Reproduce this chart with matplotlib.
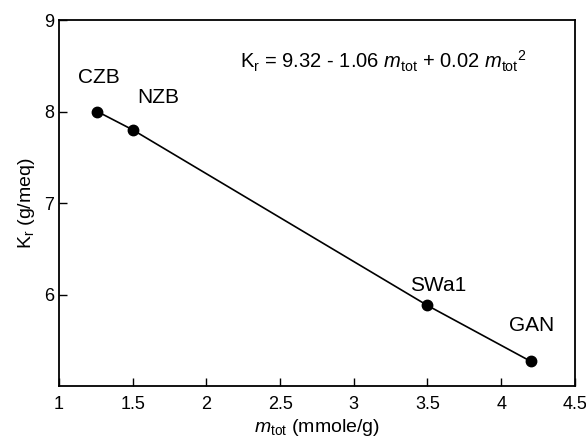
import matplotlib
matplotlib.use('Agg')
import matplotlib.pyplot as plt

plt.rcParams['font.family'] = ['Liberation Sans', 'DejaVu Sans']
plt.rcParams['mathtext.fontset'] = 'custom'
plt.rcParams['mathtext.rm'] = 'Liberation Sans'
plt.rcParams['mathtext.it'] = 'Liberation Sans:italic'

# clay samples: total charge vs K_r
samples = ['CZB', 'NZB', 'SWa1', 'GAN']
m_tot = [1.26, 1.5, 3.5, 4.2]
k_r = [8.0, 7.8, 5.88, 5.27]

# label positions (data coords, left/center anchor)
label_x = [1.13, 1.53, 3.38, 4.05]
label_y = [8.37, 8.15, 6.1, 5.66]

x_ticks = [1, 1.5, 2, 2.5, 3, 3.5, 4, 4.5]
x_tick_labels = ['1', '1.5', '2', '2.5', '3', '3.5', '4', '4.5']
y_ticks = [6, 7, 8, 9]

fig = plt.figure(figsize=(5.86, 4.41), dpi=100)
ax = fig.add_axes([0.1007, 0.1247, 0.8803, 0.8299])

ax.plot(m_tot, k_r, color='black', linewidth=1.2, marker='o', markersize=7.5)

for name, lx, ly in zip(samples, label_x, label_y):
    ax.text(lx, ly, name, fontsize=15, ha='left', va='center')

ax.text(2.23, 8.55,
        r'K$_\mathrm{r}$ = 9.32 - 1.06 $\mathit{m}_\mathrm{tot}$ + 0.02 $\mathit{m}_\mathrm{tot}$$^\mathrm{2}$',
        fontsize=14.5, ha='left', va='center')

ax.set_xlim(1, 4.5)
ax.set_ylim(5, 9)
ax.set_xticks(x_ticks)
ax.set_xticklabels(x_tick_labels)
ax.set_yticks(y_ticks)
ax.tick_params(direction='in', length=6, width=1, labelsize=13, top=False, right=False)
ax.tick_params(axis='x', pad=7)
for sp in ax.spines.values():
    sp.set_linewidth(1.3)

ax.set_xlabel(r'$\mathit{m}_\mathrm{tot}$ (mmole/g)', fontsize=14, labelpad=3)
ax.set_ylabel(r'K$_\mathrm{r}$ (g/meq)', fontsize=14, labelpad=5)

fig.savefig('out.png', dpi=100)
